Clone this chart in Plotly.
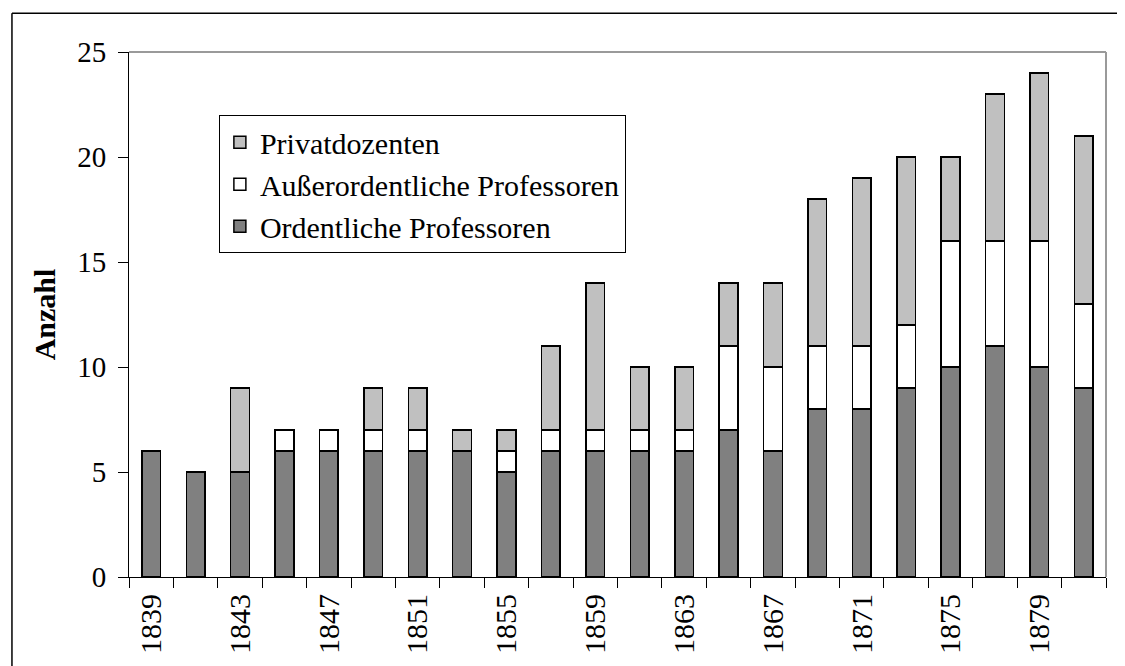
import plotly.graph_objects as go

# Daten (Jahre und Anzahl je Kategorie)
jahre = [str(j) for j in range(1839, 1882, 2)]
ordentliche = [6, 5, 5, 6, 6, 6, 6, 6, 5, 6, 6, 6, 6, 7, 6, 8, 8, 9, 10, 11, 10, 9]
ausserordentliche = [0, 0, 0, 1, 1, 1, 1, 0, 1, 1, 1, 1, 1, 4, 4, 3, 3, 3, 6, 5, 6, 4]
privatdozenten = [0, 0, 4, 0, 0, 2, 2, 1, 1, 4, 7, 3, 3, 3, 4, 7, 8, 8, 4, 7, 8, 8]

# nur jedes zweite Jahr beschriften
beschriftung = [j if i % 2 == 0 else "" for i, j in enumerate(jahre)]

schrift = "Liberation Serif"

fig = go.Figure()

# Reihenfolge von unten nach oben
fig.add_trace(go.Bar(x=jahre, y=ordentliche, name="Ordentliche Professoren",
                     marker=dict(color="#808080", line=dict(color="black", width=1.5))))
fig.add_trace(go.Bar(x=jahre, y=ausserordentliche, name="Außerordentliche Professoren",
                     marker=dict(color="white", line=dict(color="black", width=1.5))))
fig.add_trace(go.Bar(x=jahre, y=privatdozenten, name="Privatdozenten",
                     marker=dict(color="#C0C0C0", line=dict(color="black", width=1.5))))

# die Seite hat 8px Rand, daher Breite/Höhe und Ränder angepasst
fig.update_layout(
    barmode="stack",
    bargap=0.58,
    width=1117,
    height=658,
    margin=dict(l=121, r=19, t=44, b=87),
    plot_bgcolor="white",
    paper_bgcolor="white",
    font=dict(family=schrift, size=28, color="black"),
    showlegend=True,
    legend=dict(
        x=0.092, y=0.748, xanchor="left", yanchor="middle",
        traceorder="reversed",
        bordercolor="black", borderwidth=1,
        bgcolor="white",
        font=dict(family=schrift, size=30, color="black"),
        tracegroupgap=0,
        itemwidth=30,
    ),
    xaxis=dict(
        type="category",
        tickvals=jahre,
        ticktext=beschriftung,
        tickangle=-90,
        tickson="boundaries",
        ticks="outside", ticklen=10, tickcolor="black", tickwidth=1,
        showline=True, linecolor="black", linewidth=1,
        showgrid=False,
        tickfont=dict(family=schrift, size=30, color="black"),
        ticklabelstandoff=4,
    ),
    yaxis=dict(
        range=[0, 25],
        dtick=5,
        ticks="outside", ticklen=10, tickcolor="black", tickwidth=1,
        showline=True, linecolor="black", linewidth=1,
        showgrid=False, zeroline=False,
        tickfont=dict(family=schrift, size=29, color="black"),
        ticklabelstandoff=6,
        title=dict(text="<b>Anzahl</b>", font=dict(family=schrift, size=30, color="black"), standoff=12),
    ),
)

# graue Rahmenlinien oben und rechts am Diagrammbereich
fig.add_shape(type="line", xref="paper", yref="paper", x0=0, x1=1, y0=1, y1=1,
              line=dict(color="#9a9a9a", width=2))
fig.add_shape(type="line", xref="paper", yref="paper", x0=1, x1=1, y0=0, y1=1,
              line=dict(color="#9a9a9a", width=2))

# äußerer Rahmen (links und oben)
fig.add_shape(type="line", xref="paper", yref="paper", x0=-0.1198, x1=-0.1198, y0=-0.3, y1=1.074,
              line=dict(color="black", width=1.5))
fig.add_shape(type="line", xref="paper", yref="paper", x0=-0.1198, x1=1.1, y0=1.074, y1=1.074,
              line=dict(color="black", width=1.5))

fig.write_html("out.html")
